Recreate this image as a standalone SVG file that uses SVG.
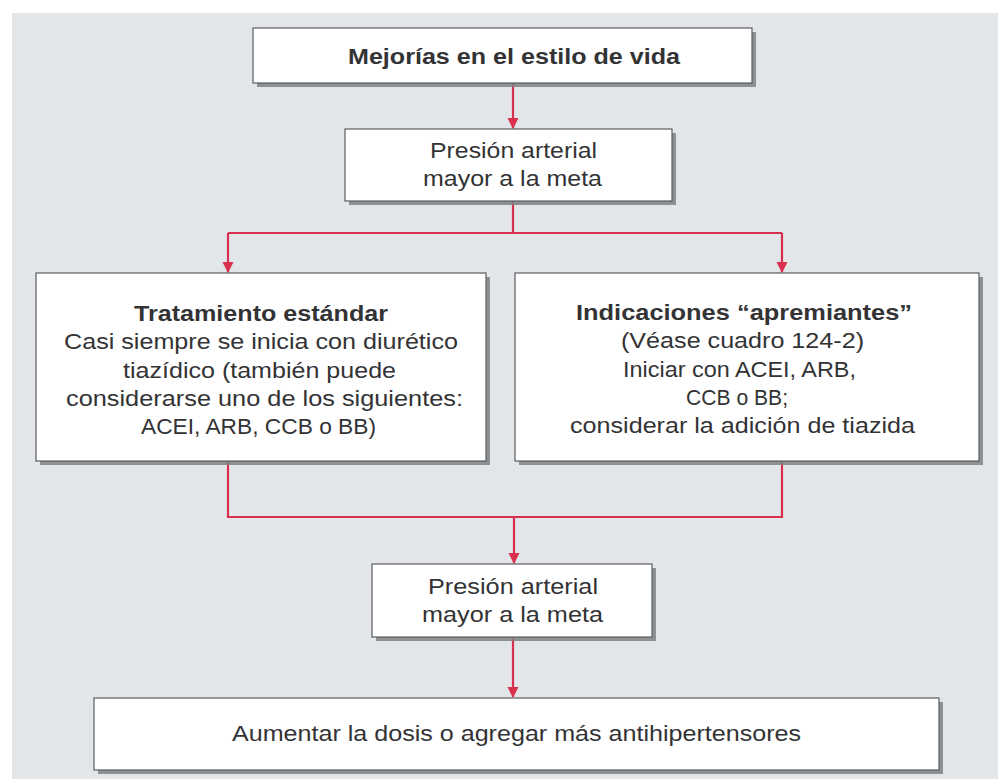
<svg xmlns="http://www.w3.org/2000/svg" width="998" height="779" viewBox="0 0 998 779">
<defs>
<style>
.box{fill:#ffffff;stroke:#5a5c5f;stroke-width:1.2}
.sh{fill:#7e8185;opacity:0.85}
.t{font-family:"Liberation Sans",Arial,sans-serif;font-size:22px;fill:#333335}
.b{font-weight:bold}
.c{fill:none;stroke:#d9304f;stroke-width:2.2}
</style>
<marker id="ah" viewBox="0 0 10 10" refX="9" refY="5" markerWidth="5" markerHeight="6" markerUnits="strokeWidth" orient="auto">
<path d="M0,0 L10,5 L0,10 z" fill="#d9304f"/>
</marker>
</defs>
<rect x="0" y="0" width="998" height="779" fill="#ffffff"/>
<rect x="12" y="13" width="986" height="766" fill="#e2e6e9"/>

<g id="connectors">
<path class="c" d="M513,83 V128" marker-end="url(#ah)"/>
<path class="c" d="M513,201 V233"/>
<path class="c" d="M228,233 H782"/>
<path class="c" d="M228,233 V272" marker-end="url(#ah)"/>
<path class="c" d="M782,233 V272" marker-end="url(#ah)"/>
<path class="c" d="M228,461 V517 H782 V461"/>
<path class="c" d="M514,517 V563" marker-end="url(#ah)"/>
<path class="c" d="M513,637 V697" marker-end="url(#ah)"/>
</g>

<g id="n1">
<rect class="sh" x="257" y="32" width="499" height="55"/>
<rect class="box" x="253" y="28" width="499" height="55"/>
<text class="t b" x="348" y="64" textLength="332" lengthAdjust="spacingAndGlyphs">Mejorías en el estilo de vida</text>
</g>

<g id="n2">
<rect class="sh" x="349" y="133" width="327" height="72"/>
<rect class="box" x="345" y="129" width="327" height="72"/>
<text class="t" x="430" y="158" textLength="167" lengthAdjust="spacingAndGlyphs">Presión arterial</text>
<text class="t" x="423" y="186" textLength="179" lengthAdjust="spacingAndGlyphs">mayor a la meta</text>
</g>

<g id="n3">
<rect class="sh" x="40" y="277" width="450" height="188"/>
<rect class="box" x="36" y="273" width="450" height="188"/>
<text class="t b" x="134" y="321" textLength="254" lengthAdjust="spacingAndGlyphs">Tratamiento estándar</text>
<text class="t" x="64" y="349" textLength="394" lengthAdjust="spacingAndGlyphs">Casi siempre se inicia con diurético</text>
<text class="t" x="123" y="378" textLength="273" lengthAdjust="spacingAndGlyphs">tiazídico (también puede</text>
<text class="t" x="66" y="406" textLength="397" lengthAdjust="spacingAndGlyphs">considerarse uno de los siguientes:</text>
<text class="t" x="141" y="434" textLength="235" lengthAdjust="spacingAndGlyphs">ACEI, ARB, CCB o BB)</text>
</g>

<g id="n4">
<rect class="sh" x="519" y="277" width="464" height="188"/>
<rect class="box" x="515" y="273" width="464" height="188"/>
<text class="t b" x="576" y="320" textLength="336" lengthAdjust="spacingAndGlyphs">Indicaciones “apremiantes”</text>
<text class="t" x="621" y="348" textLength="243" lengthAdjust="spacingAndGlyphs">(Véase cuadro 124-2)</text>
<text class="t" x="623" y="377" textLength="233" lengthAdjust="spacingAndGlyphs">Iniciar con ACEI, ARB,</text>
<text class="t" x="686" y="405" textLength="102" lengthAdjust="spacingAndGlyphs">CCB o BB;</text>
<text class="t" x="570" y="433" textLength="345" lengthAdjust="spacingAndGlyphs">considerar la adición de tiazida</text>
</g>

<g id="n5">
<rect class="sh" x="376" y="568" width="280" height="73"/>
<rect class="box" x="372" y="564" width="280" height="73"/>
<text class="t" x="428" y="594" textLength="170" lengthAdjust="spacingAndGlyphs">Presión arterial</text>
<text class="t" x="422" y="622" textLength="181" lengthAdjust="spacingAndGlyphs">mayor a la meta</text>
</g>

<g id="n6">
<rect class="sh" x="98" y="702" width="845" height="72"/>
<rect class="box" x="94" y="698" width="845" height="72"/>
<text class="t" x="232" y="741" textLength="569" lengthAdjust="spacingAndGlyphs">Aumentar la dosis o agregar más antihipertensores</text>
</g>
</svg>
